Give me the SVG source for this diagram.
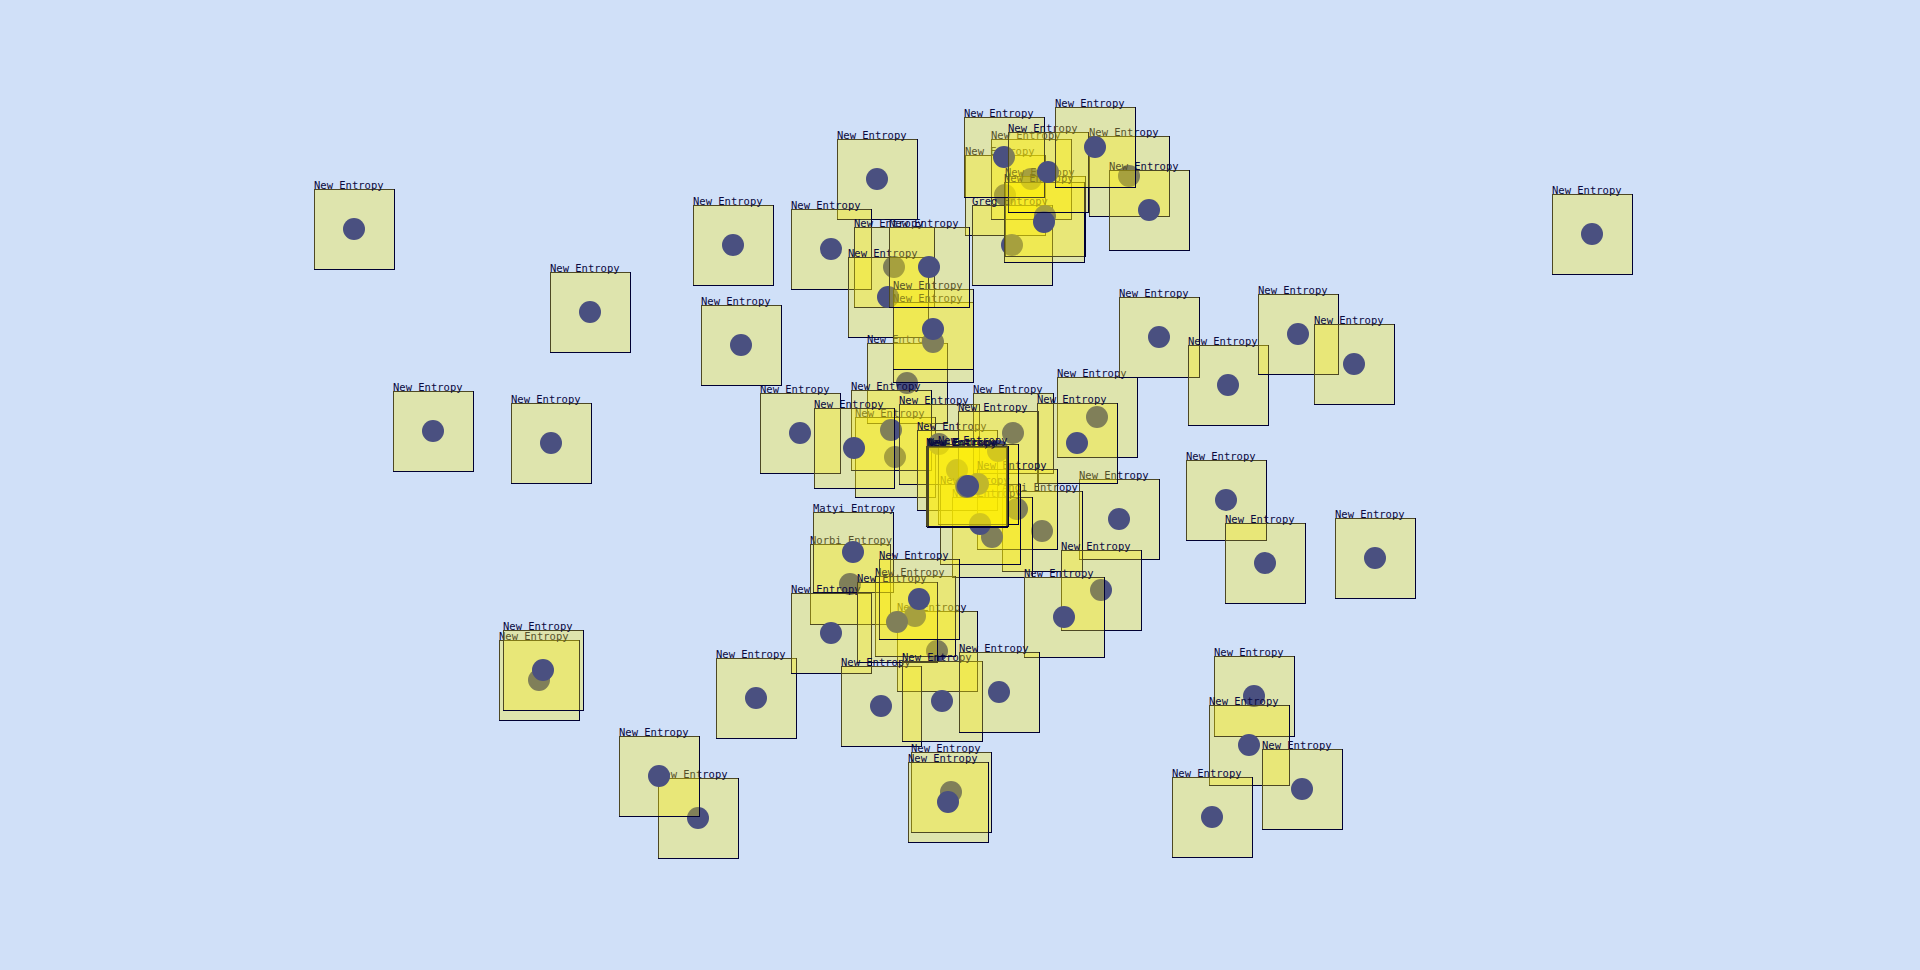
<svg xmlns="http://www.w3.org/2000/svg" xmlns:xlink="http://www.w3.org/1999/xlink" width="1920" height="970" viewBox="0 0 1920 970">
<style>
.s{fill:none;stroke:#000033;stroke-width:1}
.f{fill:#ffee00;fill-opacity:0.3}
.c{fill:#4a5080}
.t{font-family:"DejaVu Sans Mono","Liberation Mono",monospace;font-size:10.5px;fill:#0a0a40}
</style>
<defs>
<g id="box"><rect class="s" x="0.5" y="0.5" width="80" height="80"/><rect class="f" width="80" height="80"/><circle class="c" cx="40" cy="40" r="11"/></g>
</defs>
<rect width="1920" height="970" fill="#d0e0f8"/>
<g id="connectors"/>
<g id="n1" transform="translate(314,189)"><use href="#box"/><text class="t">New Entropy</text></g>
<g id="n2" transform="translate(550,272)"><use href="#box"/><text class="t">New Entropy</text></g>
<g id="n3" transform="translate(393,391)"><use href="#box"/><text class="t">New Entropy</text></g>
<g id="n4" transform="translate(511,403)"><use href="#box"/><text class="t">New Entropy</text></g>
<g id="n5" transform="translate(693,205)"><use href="#box"/><text class="t">New Entropy</text></g>
<g id="n6" transform="translate(701,305)"><use href="#box"/><text class="t">New Entropy</text></g>
<g id="n7" transform="translate(837,139)"><use href="#box"/><text class="t">New Entropy</text></g>
<g id="n8" transform="translate(791,209)"><use href="#box"/><text class="t">New Entropy</text></g>
<g id="n9" transform="translate(760,393)"><use href="#box"/><text class="t">New Entropy</text></g>
<g id="n10" transform="translate(1552,194)"><use href="#box"/><text class="t">New Entropy</text></g>
<g id="n11" transform="translate(499,640)"><use href="#box"/><text class="t">New Entropy</text></g>
<g id="n12" transform="translate(503,630)"><use href="#box"/><text class="t">New Entropy</text></g>
<g id="n13" transform="translate(658,778)"><use href="#box"/><text class="t">New Entropy</text></g>
<g id="n14" transform="translate(619,736)"><use href="#box"/><text class="t">New Entropy</text></g>
<g id="n15" transform="translate(716,658)"><use href="#box"/><text class="t">New Entropy</text></g>
<g id="n17" transform="translate(965,155)"><use href="#box"/><text class="t">New Entropy</text></g>
<g id="n18" transform="translate(991,139)"><use href="#box"/><text class="t">New Entropy</text></g>
<g id="n16" transform="translate(972,205)"><use href="#box"/><text class="t">Greg Entropy</text></g>
<g id="n19" transform="translate(1005,176)"><use href="#box"/><text class="t">New Entropy</text></g>
<g id="n20" transform="translate(1004,182)"><use href="#box"/><text class="t">New Entropy</text></g>
<g id="n21" transform="translate(964,117)"><use href="#box"/><text class="t">New Entropy</text></g>
<g id="n22" transform="translate(1008,132)"><use href="#box"/><text class="t">New Entropy</text></g>
<g id="n23" transform="translate(1089,136)"><use href="#box"/><text class="t">New Entropy</text></g>
<g id="n24" transform="translate(1109,170)"><use href="#box"/><text class="t">New Entropy</text></g>
<g id="n25" transform="translate(1055,107)"><use href="#box"/><text class="t">New Entropy</text></g>
<g id="n26" transform="translate(854,227)"><use href="#box"/><text class="t">New Entropy</text></g>
<g id="n27" transform="translate(848,257)"><use href="#box"/><text class="t">New Entropy</text></g>
<g id="n28" transform="translate(867,343)"><use href="#box"/><text class="t">New Entropy</text></g>
<g id="n29" transform="translate(893,302)"><use href="#box"/><text class="t">New Entropy</text></g>
<g id="n30" transform="translate(893,289)"><use href="#box"/><text class="t">New Entropy</text></g>
<g id="n31" transform="translate(889,227)"><use href="#box"/><text class="t">New Entropy</text></g>
<g id="n32" transform="translate(855,417)"><use href="#box"/><text class="t">New Entropy</text></g>
<g id="n33" transform="translate(851,390)"><use href="#box"/><text class="t">New Entropy</text></g>
<g id="n34" transform="translate(814,408)"><use href="#box"/><text class="t">New Entropy</text></g>
<g id="n35" transform="translate(899,404)"><use href="#box"/><text class="t">New Entropy</text></g>
<g id="n36" transform="translate(917,430)"><use href="#box"/><text class="t">New Entropy</text></g>
<g id="n37" transform="translate(973,393)"><use href="#box"/><text class="t">New Entropy</text></g>
<g id="n38" transform="translate(958,411)"><use href="#box"/><text class="t">New Entropy</text></g>
<g id="n39" transform="translate(1057,377)"><use href="#box"/><text class="t">New Entropy</text></g>
<g id="n40" transform="translate(1079,479)"><use href="#box"/><text class="t">New Entropy</text></g>
<g id="n41" transform="translate(1037,403)"><use href="#box"/><text class="t">New Entropy</text></g>
<g id="n42" transform="translate(1002,491)"><use href="#box"/><text class="t">Andi Entropy</text></g>
<g id="n43" transform="translate(977,469)"><use href="#box"/><text class="t">New Entropy</text></g>
<g id="n44" transform="translate(952,497)"><use href="#box"/><text class="t">New Entropy</text></g>
<g id="n45" transform="translate(940,484)"><use href="#box"/><text class="t">New Entropy</text></g>
<g id="n46" transform="translate(938,444)"><use href="#box"/><text class="t">New Entropy</text></g>
<g id="n47" transform="translate(926,446)"><use href="#box"/><text class="t">New Entropy</text></g>
<g id="n48" transform="translate(927,447)"><use href="#box"/><text class="t">New Entropy</text></g>
<g id="n49" transform="translate(928,446)"><use href="#box"/><text class="t">New Entropy</text></g>
<g id="n50" transform="translate(1061,550)"><use href="#box"/><text class="t">New Entropy</text></g>
<g id="n51" transform="translate(1024,577)"><use href="#box"/><text class="t">New Entropy</text></g>
<g id="n52" transform="translate(810,544)"><use href="#box"/><text class="t">Norbi Entropy</text></g>
<g id="n53" transform="translate(813,512)"><use href="#box"/><text class="t">Matyi Entropy</text></g>
<g id="n54" transform="translate(791,593)"><use href="#box"/><text class="t">New Entropy</text></g>
<g id="n55" transform="translate(897,611)"><use href="#box"/><text class="t">New Entropy</text></g>
<g id="n56" transform="translate(875,576)"><use href="#box"/><text class="t">New Entropy</text></g>
<g id="n57" transform="translate(857,582)"><use href="#box"/><text class="t">New Entropy</text></g>
<g id="n58" transform="translate(879,559)"><use href="#box"/><text class="t">New Entropy</text></g>
<g id="n59" transform="translate(841,666)"><use href="#box"/><text class="t">New Entropy</text></g>
<g id="n60" transform="translate(902,661)"><use href="#box"/><text class="t">New Entropy</text></g>
<g id="n61" transform="translate(959,652)"><use href="#box"/><text class="t">New Entropy</text></g>
<g id="n62" transform="translate(911,752)"><use href="#box"/><text class="t">New Entropy</text></g>
<g id="n63" transform="translate(908,762)"><use href="#box"/><text class="t">New Entropy</text></g>
<g id="n64" transform="translate(1119,297)"><use href="#box"/><text class="t">New Entropy</text></g>
<g id="n65" transform="translate(1188,345)"><use href="#box"/><text class="t">New Entropy</text></g>
<g id="n66" transform="translate(1258,294)"><use href="#box"/><text class="t">New Entropy</text></g>
<g id="n67" transform="translate(1314,324)"><use href="#box"/><text class="t">New Entropy</text></g>
<g id="n68" transform="translate(1186,460)"><use href="#box"/><text class="t">New Entropy</text></g>
<g id="n69" transform="translate(1225,523)"><use href="#box"/><text class="t">New Entropy</text></g>
<g id="n70" transform="translate(1335,518)"><use href="#box"/><text class="t">New Entropy</text></g>
<g id="n71" transform="translate(1214,656)"><use href="#box"/><text class="t">New Entropy</text></g>
<g id="n72" transform="translate(1209,705)"><use href="#box"/><text class="t">New Entropy</text></g>
<g id="n73" transform="translate(1262,749)"><use href="#box"/><text class="t">New Entropy</text></g>
<g id="n74" transform="translate(1172,777)"><use href="#box"/><text class="t">New Entropy</text></g>
</svg>
